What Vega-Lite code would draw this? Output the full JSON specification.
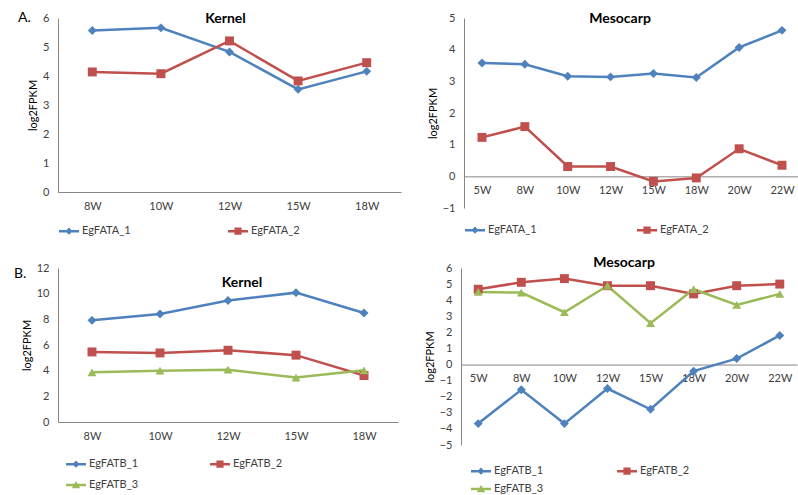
{
  "$schema": "https://vega.github.io/schema/vega-lite/v6.json",
  "padding": {"left": 14, "top": 11, "right": 0, "bottom": 0},
  "background": "white",
  "spacing": 18,
  "config": {
    "font": "Lato",
    "view": {"stroke": null},
    "axis": {"grid": false, "ticks": false, "domainColor": "#868686", "domainWidth": 1, "labelFont": "Lato", "labelFontSize": 11, "labelColor": "#404040", "titleFont": "Lato", "titleFontSize": 11, "titleFontWeight": "normal", "titleColor": "#000000", "labelOverlap": false},
    "axisX": {"labelAngle": 0, "labelPadding": 8, "title": null},
    "axisY": {"labelPadding": 9, "titlePadding": 4},
    "legend": {"symbolOpacity": 1, "labelFont": "Lato", "labelFontSize": 11, "labelColor": "#404040", "rowPadding": 3, "labelOffset": 2},
    "title": {"font": "Lato", "fontSize": 14, "fontWeight": "bold", "color": "#000000"}
  },
  "datasets": {
    "fata_kernel": [
      {"stage": "8W", "gene": "EgFATA_1", "value": 5.57},
      {"stage": "10W", "gene": "EgFATA_1", "value": 5.66},
      {"stage": "12W", "gene": "EgFATA_1", "value": 4.83},
      {"stage": "15W", "gene": "EgFATA_1", "value": 3.54},
      {"stage": "18W", "gene": "EgFATA_1", "value": 4.16},
      {"stage": "8W", "gene": "EgFATA_2", "value": 4.14},
      {"stage": "10W", "gene": "EgFATA_2", "value": 4.08},
      {"stage": "12W", "gene": "EgFATA_2", "value": 5.21},
      {"stage": "15W", "gene": "EgFATA_2", "value": 3.83},
      {"stage": "18W", "gene": "EgFATA_2", "value": 4.46}
    ],
    "fata_meso": [
      {"stage": "5W", "gene": "EgFATA_1", "value": 3.58},
      {"stage": "8W", "gene": "EgFATA_1", "value": 3.54},
      {"stage": "10W", "gene": "EgFATA_1", "value": 3.16},
      {"stage": "12W", "gene": "EgFATA_1", "value": 3.14},
      {"stage": "15W", "gene": "EgFATA_1", "value": 3.25},
      {"stage": "18W", "gene": "EgFATA_1", "value": 3.12},
      {"stage": "20W", "gene": "EgFATA_1", "value": 4.07},
      {"stage": "22W", "gene": "EgFATA_1", "value": 4.61},
      {"stage": "5W", "gene": "EgFATA_2", "value": 1.23},
      {"stage": "8W", "gene": "EgFATA_2", "value": 1.57},
      {"stage": "10W", "gene": "EgFATA_2", "value": 0.31},
      {"stage": "12W", "gene": "EgFATA_2", "value": 0.31},
      {"stage": "15W", "gene": "EgFATA_2", "value": -0.16},
      {"stage": "18W", "gene": "EgFATA_2", "value": -0.05},
      {"stage": "20W", "gene": "EgFATA_2", "value": 0.87},
      {"stage": "22W", "gene": "EgFATA_2", "value": 0.35}
    ],
    "fatb_kernel": [
      {"stage": "8W", "gene": "EgFATB_1", "value": 7.92},
      {"stage": "10W", "gene": "EgFATB_1", "value": 8.41},
      {"stage": "12W", "gene": "EgFATB_1", "value": 9.46},
      {"stage": "15W", "gene": "EgFATB_1", "value": 10.08},
      {"stage": "18W", "gene": "EgFATB_1", "value": 8.49},
      {"stage": "8W", "gene": "EgFATB_2", "value": 5.46},
      {"stage": "10W", "gene": "EgFATB_2", "value": 5.38},
      {"stage": "12W", "gene": "EgFATB_2", "value": 5.59},
      {"stage": "15W", "gene": "EgFATB_2", "value": 5.21},
      {"stage": "18W", "gene": "EgFATB_2", "value": 3.62},
      {"stage": "8W", "gene": "EgFATB_3", "value": 3.87},
      {"stage": "10W", "gene": "EgFATB_3", "value": 4.0},
      {"stage": "12W", "gene": "EgFATB_3", "value": 4.08},
      {"stage": "15W", "gene": "EgFATB_3", "value": 3.46},
      {"stage": "18W", "gene": "EgFATB_3", "value": 4.03}
    ],
    "fatb_meso": [
      {"stage": "5W", "gene": "EgFATB_1", "value": -3.67},
      {"stage": "8W", "gene": "EgFATB_1", "value": -1.57},
      {"stage": "10W", "gene": "EgFATB_1", "value": -3.67},
      {"stage": "12W", "gene": "EgFATB_1", "value": -1.49},
      {"stage": "15W", "gene": "EgFATB_1", "value": -2.78},
      {"stage": "18W", "gene": "EgFATB_1", "value": -0.41},
      {"stage": "20W", "gene": "EgFATB_1", "value": 0.37},
      {"stage": "22W", "gene": "EgFATB_1", "value": 1.81},
      {"stage": "5W", "gene": "EgFATB_2", "value": 4.68},
      {"stage": "8W", "gene": "EgFATB_2", "value": 5.11},
      {"stage": "10W", "gene": "EgFATB_2", "value": 5.34},
      {"stage": "12W", "gene": "EgFATB_2", "value": 4.9},
      {"stage": "15W", "gene": "EgFATB_2", "value": 4.9},
      {"stage": "18W", "gene": "EgFATB_2", "value": 4.39},
      {"stage": "20W", "gene": "EgFATB_2", "value": 4.9},
      {"stage": "22W", "gene": "EgFATB_2", "value": 5.0},
      {"stage": "5W", "gene": "EgFATB_3", "value": 4.51},
      {"stage": "8W", "gene": "EgFATB_3", "value": 4.47},
      {"stage": "10W", "gene": "EgFATB_3", "value": 3.25},
      {"stage": "12W", "gene": "EgFATB_3", "value": 4.9},
      {"stage": "15W", "gene": "EgFATB_3", "value": 2.57},
      {"stage": "18W", "gene": "EgFATB_3", "value": 4.68},
      {"stage": "20W", "gene": "EgFATB_3", "value": 3.71},
      {"stage": "22W", "gene": "EgFATB_3", "value": 4.39}
    ]
  },
  "vconcat": [
    {
      "title": {"text": "A.", "anchor": "start", "frame": "group", "fontSize": 14, "fontWeight": "normal", "dx": -40, "offset": -13},
      "bounds": "flush",
      "spacing": 63,
      "hconcat": [
        {
          "width": 343, "height": 174,
          "title": {"text": "Kernel", "frame": "group", "anchor": "middle", "dx": -4, "offset": -14},
          "data": {"name": "fata_kernel"},
          "encoding": {
            "x": {"field": "stage", "type": "nominal", "sort": ["8W", "10W", "12W", "15W", "18W"], "scale": {"padding": 0.5}},
            "y": {"field": "value", "type": "quantitative", "scale": {"domain": [0, 6]}, "axis": {"values": [0, 1, 2, 3, 4, 5, 6], "title": "log2FPKM"}}
          },
          "layer": [
            {"mark": {"type": "line", "strokeWidth": 2.5}, "encoding": {"color": {"field": "gene", "type": "nominal", "scale": {"domain": ["EgFATA_1", "EgFATA_2"], "range": ["#4F81BD", "#C0504D"]}, "legend": null}}},
            {"mark": {"type": "point", "filled": true, "size": 80, "opacity": 1}, "encoding": {
              "color": {"field": "gene", "type": "nominal", "scale": {"domain": ["EgFATA_1", "EgFATA_2"], "range": ["#4F81BD", "#C0504D"]}, "legend": null},
              "shape": {"field": "gene", "type": "nominal", "scale": {"domain": ["EgFATA_1", "EgFATA_2"], "range": ["diamond", "square"]}, "legend": null}}},
            {"mark": {"type": "point", "filled": true, "opacity": 0}, "encoding": {
              "color": {"field": "gene", "type": "nominal", "scale": {"domain": ["EgFATA_1", "EgFATA_2"], "range": ["#4F81BD", "#C0504D"]},
                "legend": {"orient": "bottom", "direction": "horizontal", "columns": 2, "title": null, "symbolSize": 400, "symbolOpacity": 1, "columnPadding": 94, "offset": 9}},
              "shape": {"field": "gene", "type": "nominal", "scale": {"domain": ["EgFATA_1", "EgFATA_2"], "range": ["M-1,-0.12H1V0.12H-1Z M0,-0.36L0.36,0L0,0.36L-0.36,0Z", "M-1,-0.12H1V0.12H-1Z M-0.36,-0.36H0.36V0.36H-0.36Z"]},
                "legend": {"orient": "bottom", "direction": "horizontal", "columns": 2, "title": null, "symbolSize": 400, "symbolOpacity": 1, "columnPadding": 94, "offset": 9}}}}
          ],
          "resolve": {"scale": {"color": "independent", "shape": "independent"}}
        },
        {
          "width": 336, "height": 190,
          "title": {"text": "Mesocarp", "frame": "group", "anchor": "middle", "dx": -12, "offset": -14},
          "data": {"name": "fata_meso"},
          "encoding": {
            "x": {"field": "stage", "type": "nominal", "sort": ["5W", "8W", "10W", "12W", "15W", "18W", "20W", "22W"], "scale": {"padding": 0.42}, "axis": {"offset": -31.67}},
            "y": {"field": "value", "type": "quantitative", "scale": {"domain": [-1, 5]}, "axis": {"values": [-1, 0, 1, 2, 3, 4, 5], "title": "log2FPKM"}}
          },
          "layer": [
            {"mark": {"type": "line", "strokeWidth": 2.5}, "encoding": {"color": {"field": "gene", "type": "nominal", "scale": {"domain": ["EgFATA_1", "EgFATA_2"], "range": ["#4F81BD", "#C0504D"]}, "legend": null}}},
            {"mark": {"type": "point", "filled": true, "size": 80, "opacity": 1}, "encoding": {
              "color": {"field": "gene", "type": "nominal", "scale": {"domain": ["EgFATA_1", "EgFATA_2"], "range": ["#4F81BD", "#C0504D"]}, "legend": null},
              "shape": {"field": "gene", "type": "nominal", "scale": {"domain": ["EgFATA_1", "EgFATA_2"], "range": ["diamond", "square"]}, "legend": null}}},
            {"mark": {"type": "point", "filled": true, "opacity": 0}, "encoding": {
              "color": {"field": "gene", "type": "nominal", "scale": {"domain": ["EgFATA_1", "EgFATA_2"], "range": ["#4F81BD", "#C0504D"]},
                "legend": {"orient": "bottom", "direction": "horizontal", "columns": 2, "title": null, "symbolSize": 400, "symbolOpacity": 1, "columnPadding": 97, "offset": 11}},
              "shape": {"field": "gene", "type": "nominal", "scale": {"domain": ["EgFATA_1", "EgFATA_2"], "range": ["M-1,-0.12H1V0.12H-1Z M0,-0.36L0.36,0L0,0.36L-0.36,0Z", "M-1,-0.12H1V0.12H-1Z M-0.36,-0.36H0.36V0.36H-0.36Z"]},
                "legend": {"orient": "bottom", "direction": "horizontal", "columns": 2, "title": null, "symbolSize": 400, "symbolOpacity": 1, "columnPadding": 97, "offset": 11}}}}
          ],
          "resolve": {"scale": {"color": "independent", "shape": "independent"}}
        }
      ]
    },
    {
      "title": {"text": "B.", "anchor": "start", "frame": "group", "fontSize": 14, "fontWeight": "normal", "dx": -44, "offset": -25},
      "bounds": "flush",
      "spacing": 63,
      "hconcat": [
        {
          "width": 340, "height": 154,
          "title": {"text": "Kernel", "frame": "group", "anchor": "middle", "dx": 14, "offset": -28},
          "data": {"name": "fatb_kernel"},
          "encoding": {
            "x": {"field": "stage", "type": "nominal", "sort": ["8W", "10W", "12W", "15W", "18W"], "scale": {"padding": 0.5}},
            "y": {"field": "value", "type": "quantitative", "scale": {"domain": [0, 12]}, "axis": {"values": [0, 2, 4, 6, 8, 10, 12], "title": "log2FPKM"}}
          },
          "layer": [
            {"mark": {"type": "line", "strokeWidth": 2.5}, "encoding": {"color": {"field": "gene", "type": "nominal", "scale": {"domain": ["EgFATB_1", "EgFATB_2", "EgFATB_3"], "range": ["#4F81BD", "#C0504D", "#9BBB59"]}, "legend": null}}},
            {"mark": {"type": "point", "filled": true, "size": 80, "opacity": 1}, "encoding": {
              "color": {"field": "gene", "type": "nominal", "scale": {"domain": ["EgFATB_1", "EgFATB_2", "EgFATB_3"], "range": ["#4F81BD", "#C0504D", "#9BBB59"]}, "legend": null},
              "shape": {"field": "gene", "type": "nominal", "scale": {"domain": ["EgFATB_1", "EgFATB_2", "EgFATB_3"], "range": ["diamond", "square", "triangle-up"]}, "legend": null}}},
            {"mark": {"type": "point", "filled": true, "opacity": 0}, "encoding": {
              "color": {"field": "gene", "type": "nominal", "scale": {"domain": ["EgFATB_1", "EgFATB_2", "EgFATB_3"], "range": ["#4F81BD", "#C0504D", "#9BBB59"]},
                "legend": {"orient": "bottom", "direction": "horizontal", "columns": 2, "title": null, "symbolSize": 400, "symbolOpacity": 1, "columnPadding": 68, "offset": 5, "padding": 7}},
              "shape": {"field": "gene", "type": "nominal", "scale": {"domain": ["EgFATB_1", "EgFATB_2", "EgFATB_3"], "range": ["M-1,-0.12H1V0.12H-1Z M0,-0.36L0.36,0L0,0.36L-0.36,0Z", "M-1,-0.12H1V0.12H-1Z M-0.36,-0.36H0.36V0.36H-0.36Z", "M-1,-0.12H1V0.12H-1Z M0,-0.4L0.42,0.32L-0.42,0.32Z"]},
                "legend": {"orient": "bottom", "direction": "horizontal", "columns": 2, "title": null, "symbolSize": 400, "symbolOpacity": 1, "columnPadding": 68, "offset": 5, "padding": 7}}}}
          ],
          "resolve": {"scale": {"color": "independent", "shape": "independent"}}
        },
        {
          "width": 336, "height": 177,
          "title": {"text": "Mesocarp", "frame": "group", "anchor": "middle", "dx": -5, "offset": -8},
          "data": {"name": "fatb_meso"},
          "encoding": {
            "x": {"field": "stage", "type": "nominal", "sort": ["5W", "8W", "10W", "12W", "15W", "18W", "20W", "22W"], "scale": {"padding": 0.4}, "axis": {"offset": -80.45}},
            "y": {"field": "value", "type": "quantitative", "scale": {"domain": [-5, 6]}, "axis": {"values": [-5, -4, -3, -2, -1, 0, 1, 2, 3, 4, 5, 6], "title": "log2FPKM"}}
          },
          "layer": [
            {"mark": {"type": "line", "strokeWidth": 2.5}, "encoding": {"color": {"field": "gene", "type": "nominal", "scale": {"domain": ["EgFATB_1", "EgFATB_2", "EgFATB_3"], "range": ["#4F81BD", "#C0504D", "#9BBB59"]}, "legend": null}}},
            {"mark": {"type": "point", "filled": true, "size": 80, "opacity": 1}, "encoding": {
              "color": {"field": "gene", "type": "nominal", "scale": {"domain": ["EgFATB_1", "EgFATB_2", "EgFATB_3"], "range": ["#4F81BD", "#C0504D", "#9BBB59"]}, "legend": null},
              "shape": {"field": "gene", "type": "nominal", "scale": {"domain": ["EgFATB_1", "EgFATB_2", "EgFATB_3"], "range": ["diamond", "square", "triangle-up"]}, "legend": null}}},
            {"mark": {"type": "point", "filled": true, "opacity": 0}, "encoding": {
              "color": {"field": "gene", "type": "nominal", "scale": {"domain": ["EgFATB_1", "EgFATB_2", "EgFATB_3"], "range": ["#4F81BD", "#C0504D", "#9BBB59"]},
                "legend": {"orient": "bottom", "direction": "horizontal", "columns": 2, "title": null, "symbolSize": 400, "symbolOpacity": 1, "columnPadding": 70, "offset": 6, "padding": 9, "rowPadding": 0}},
              "shape": {"field": "gene", "type": "nominal", "scale": {"domain": ["EgFATB_1", "EgFATB_2", "EgFATB_3"], "range": ["M-1,-0.12H1V0.12H-1Z M0,-0.36L0.36,0L0,0.36L-0.36,0Z", "M-1,-0.12H1V0.12H-1Z M-0.36,-0.36H0.36V0.36H-0.36Z", "M-1,-0.12H1V0.12H-1Z M0,-0.4L0.42,0.32L-0.42,0.32Z"]},
                "legend": {"orient": "bottom", "direction": "horizontal", "columns": 2, "title": null, "symbolSize": 400, "symbolOpacity": 1, "columnPadding": 70, "offset": 6, "padding": 9, "rowPadding": 0}}}}
          ],
          "resolve": {"scale": {"color": "independent", "shape": "independent"}}
        }
      ]
    }
  ]
}
